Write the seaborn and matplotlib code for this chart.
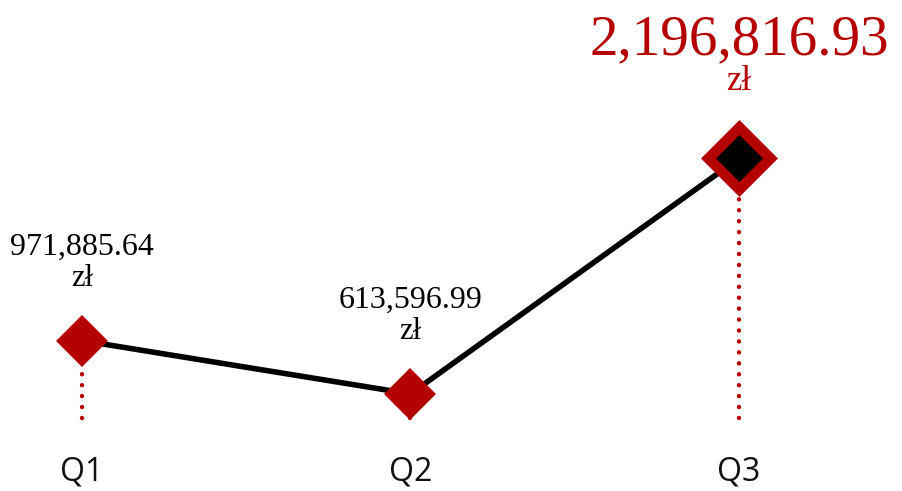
import numpy as np
import matplotlib
matplotlib.use("Agg")
import matplotlib.pyplot as plt
import seaborn as sns

# --- data ---
quarters = ["Q1", "Q2", "Q3"]
values = [971885.64, 613596.99, 2196816.93]
currency = "zł"
highlight = "Q3"

RED = "#b50000"

sns.set_theme(style="white")

fig = plt.figure(figsize=(9.03, 4.91), dpi=100)
ax = fig.add_axes([0, 0.0855, 1, 0.9145])

# dotted drop lines (behind everything)
y0, y1 = 243000, 3262000
base = y0 + 0.069 * (y1 - y0)
xs = np.arange(len(quarters))
ax.vlines(xs, base, values, colors=RED, linewidth=3.2,
          linestyles=(0, (0.01, 2.45)), capstyle="round", zorder=1)

# main line with diamond markers
sns.lineplot(x=quarters, y=values, ax=ax, color="black", linewidth=4,
             marker="D", markersize=26.5, markerfacecolor=RED,
             markeredgecolor=RED, markeredgewidth=0, zorder=2)

# highlighted point
hi = quarters.index(highlight)
ax.plot([hi], [values[hi]], marker="D", markersize=31.5,
        markerfacecolor="black", markeredgecolor=RED,
        markeredgewidth=7.6, zorder=3)

# value labels
for i, (q, v) in enumerate(zip(quarters, values)):
    if q == highlight:
        ax.annotate(f"{v:,.2f}", (i, v), xytext=(0, 104), textcoords="offset pixels",
                    ha="center", va="baseline", fontsize=41, color=RED,
                    family="Liberation Serif")
        ax.annotate(currency, (i, v), xytext=(0, 68), textcoords="offset pixels",
                    ha="center", va="baseline", fontsize=25, color=RED,
                    family="Liberation Serif")
    else:
        ax.annotate(f"{v:,.2f}", (i, v), xytext=(0, 86), textcoords="offset pixels",
                    ha="center", va="baseline", fontsize=23, color="black",
                    family="Liberation Serif")
        ax.annotate(currency, (i, v), xytext=(0, 55), textcoords="offset pixels",
                    ha="center", va="baseline", fontsize=22, color="black",
                    family="Liberation Serif")

ax.set_xlim(-0.25, 2.5)
ax.set_ylim(y0, y1)
ax.set_xticks(xs)
ax.set_xticklabels(quarters, fontsize=23, family="Open Sans", color="#111111")
ax.tick_params(axis="x", length=0, pad=5)
ax.set_yticks([])
ax.set_xlabel("")
ax.set_ylabel("")
for s in ax.spines.values():
    s.set_visible(False)

fig.savefig("out.png", dpi=100)
